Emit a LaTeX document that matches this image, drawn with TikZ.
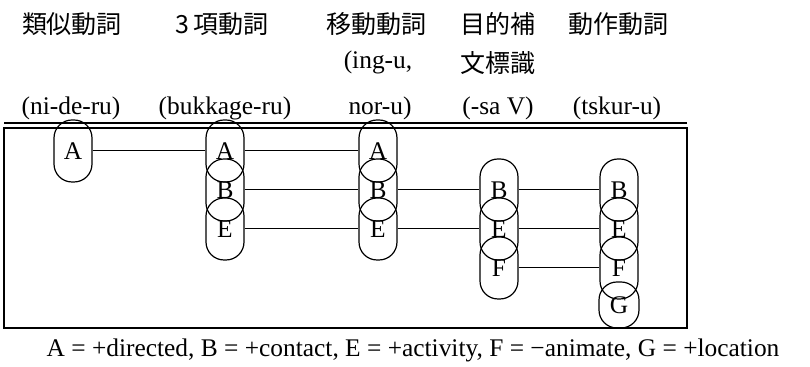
\documentclass[tikz,border=0pt]{standalone}
\usepackage{fontspec}
\setmainfont{Liberation Serif}
\newfontfamily\jp{Noto Sans CJK JP}
\usepackage{tikz}

\begin{document}
\begin{tikzpicture}[x=0.5pt, y=-0.5pt, font=\fontsize{12.7}{15}\selectfont,
  feat/.style={draw, line width=0.6pt, rounded corners=9pt, minimum width=19pt, minimum height=31pt, inner sep=0pt},
  hd/.style={font=\jp\fontsize{12.5}{15}\selectfont},
  sub/.style={anchor=base},
  link/.style={line width=0.5pt}]
\useasboundingbox (0,0) rectangle (810,367);

\node[hd] (h1) at (72,24) {類似動詞}; \node[hd] (h2) at (222,24) {3\,項動詞}; \node[hd] (h3) at (376,24) {移動動詞}; \node[hd] (h4) at (498,24) {目的補}; \node[hd] (h5) at (618,24) {動作動詞};
\node[sub] (s3) at (378,69) {(ing-u,}; \node[hd] (t4) at (498,63) {文標識};
\node[sub] (n1) at (71,115) {(ni-de-ru)}; \node[sub] (n2) at (225,115) {(bukkage-ru)}; \node[sub] (n3) at (380,115) {nor-u)}; \node[sub] (n4) at (498,115) {(-sa V)}; \node[sub] (n5) at (617,115) {(tskur-u)};

\draw[line width=0.8pt] (4,123) -- (687,123); \draw[line width=0.8pt] (4,128) rectangle (687,328);

\node[feat] (a1) at (73,151) {A};
\node[feat] (a2) at (225,151) {A}; \node[feat] (b2) at (225,190) {B}; \node[feat] (e2) at (225,229) {E};
\node[feat] (a3) at (378,151) {A}; \node[feat] (b3) at (378,190) {B}; \node[feat] (e3) at (378,229) {E};
\node[feat] (b4) at (499,190) {B}; \node[feat] (e4) at (499,229) {E}; \node[feat] (f4) at (499,268) {F};
\node[feat] (b5) at (619,190) {B}; \node[feat] (e5) at (619,229) {E}; \node[feat] (f5) at (619,268) {F}; \node[feat, minimum width=20pt, minimum height=23pt] (g5) at (619,305) {G};

\draw[link] (a1) -- (a2) -- (a3); \draw[link] (b2) -- (b3) -- (b4) -- (b5); \draw[link] (e2) -- (e3) -- (e4) -- (e5); \draw[link] (f4) -- (f5);

\node[sub] (key) at (413,357) {A = +directed, B = +contact, E = +activity, F = −animate, G = +location};
\end{tikzpicture}
\end{document}
